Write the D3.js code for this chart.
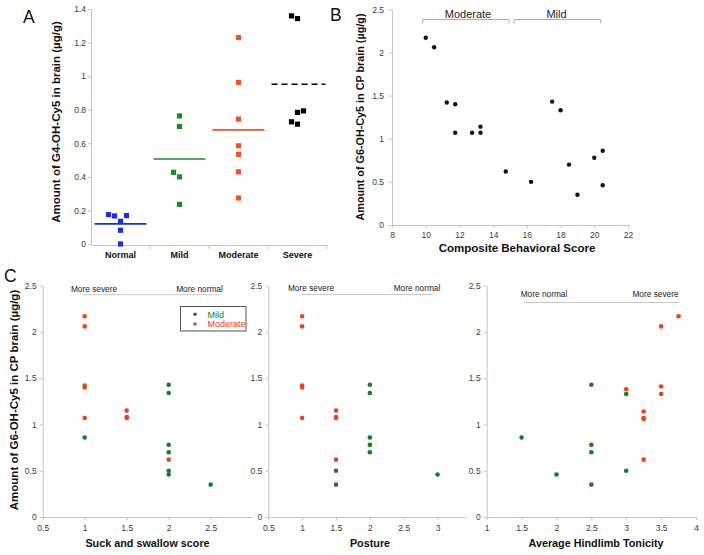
<!DOCTYPE html>
<html><head><meta charset="utf-8">
<script src="https://cdn.jsdelivr.net/npm/d3@7"></script>
<style>body{margin:0;background:#fff}svg{display:block;background:#fff}</style>
</head><body><svg id="c" width="704" height="555"></svg>
<script>
// ---------- Panel A data ----------
const groupsA = ["Normal", "Mild", "Moderate", "Severe"];
const normalVals = [0.175, 0.167, 0.169, 0.135, 0.082, 0.0];
const mildVals = [0.763, 0.70, 0.427, 0.40, 0.236];
const moderateVals = [1.23, 0.962, 0.744, 0.585, 0.534, 0.43, 0.274];
const severeVals = [1.359, 1.343, 0.793, 0.784, 0.728, 0.714];
const normalJitter = [-2, -1, 1, 0, 0, 0];
const mildJitter = [0, 0, -1, 0, 0];
const moderateJitter = [0, 0, 0, 0, 0, 0, 0];
const severeJitter = [-1, 0, 1, 0, -1, 0];
const groupMeans = [0.12, 0.506, 0.68, 0.952];
const yTicksA = [0, 0.2, 0.4, 0.6, 0.8, 1, 1.2, 1.4];

// ---------- Panel B data ----------
const scoreB = [10, 10.5, 11.25, 11.75, 11.75, 12.75, 13.25, 13.25, 14.75, 16.25, 17.5, 18, 18.5, 19, 20, 20.5, 20.5];
const amountB = [2.17, 2.06, 1.42, 1.40, 1.07, 1.07, 1.14, 1.07, 0.62, 0.50, 1.43, 1.33, 0.70, 0.35, 0.78, 0.86, 0.46];
const xTicksB = [8, 10, 12, 14, 16, 18, 20, 22];
const yTicksC = [0, 0.5, 1, 1.5, 2, 2.5];

// ---------- Panel C data ([score, amount]) ----------
const suckModerate = [[1, 2.17], [1, 2.06], [1, 1.42], [1, 1.40], [1, 1.07], [1.5, 1.15], [1.5, 1.08], [1.5, 1.07], [2, 0.62]];
const suckMild = [[1, 0.86], [2, 1.43], [2, 1.34], [2, 0.78], [2, 0.70], [2, 0.50], [2, 0.46], [2.5, 0.35]];
const postureModerate = [[1, 2.17], [1, 2.06], [1, 1.42], [1, 1.40], [1, 1.07], [1.5, 1.15], [1.5, 1.08], [1.5, 1.07], [1.5, 0.62]];
const postureMild = [[1.5, 0.50], [1.5, 0.35], [2, 1.43], [2, 1.34], [2, 0.86], [2, 0.78], [2, 0.70], [3, 0.46]];
const tonicityModerate = [[3, 1.38], [3.25, 1.14], [3.25, 1.07], [3.25, 1.06], [3.25, 0.62], [3.5, 2.06], [3.5, 1.41], [3.5, 1.33], [3.75, 2.17]];
const tonicityMild = [[1.5, 0.86], [2, 0.46], [2.5, 1.43], [2.5, 0.78], [2.5, 0.70], [2.5, 0.35], [3, 1.33], [3, 0.50]];
const xTicksSuck = [0.5, 1, 1.5, 2, 2.5];
const xTicksPosture = [0.5, 1, 1.5, 2, 2.5, 3];
const xTicksTonicity = [1, 1.5, 2, 2.5, 3, 3.5, 4];
const legendLabels = ["Mild", "Moderate"];

// ---------- styles ----------
const FONT = "'Liberation Sans', Arial, Helvetica, sans-serif";
const AXIS = "#c4c4c4";
const TXT = "#3a3a3a";
const BLUE = "#1f2fd2", GREEN_A = "#1e8a2c", ORANGE_A = "#e8562a";
const GREEN = "#1a7a28", RED = "#e2451f";

const svg = d3.select("#c").attr("font-family", FONT);
svg.append("rect").attr("width", 704).attr("height", 555).attr("fill", "#fff");

function styleAxis(g, fs) {
  g.attr("font-family", FONT).attr("font-size", fs);
  g.select(".domain").attr("stroke", AXIS);
  g.selectAll(".tick line").attr("stroke", AXIS);
  g.selectAll(".tick text").attr("fill", TXT);
}
function yAxis(scale, x, ticks, pad) {
  const ax = d3.axisLeft(scale).tickValues(ticks).tickFormat(d => String(d))
    .tickSize(3).tickSizeOuter(0).tickPadding(pad);
  svg.append("g").attr("transform", `translate(${x},0)`).call(ax).call(g => styleAxis(g, 8.5));
}
function xAxis(scale, y, ticks, pad) {
  const ax = d3.axisBottom(scale).tickValues(ticks).tickFormat(d => String(d))
    .tickSize(3).tickSizeOuter(0).tickPadding(pad);
  svg.append("g").attr("transform", `translate(0,${y})`).call(ax).call(g => styleAxis(g, 8.5));
}
function label(x, y, t, opts = {}) {
  const e = svg.append("text").attr("x", x).attr("y", y).text(t)
    .attr("font-size", opts.size || 10).attr("fill", opts.fill || "#111")
    .attr("text-anchor", opts.anchor || "middle")
    .attr("font-weight", opts.bold ? "bold" : "normal");
  if (opts.rot) e.attr("transform", `rotate(-90,${x},${y})`);
  return e;
}

// ================= Panel A =================
const xA = d3.scaleBand().domain(groupsA).range([91, 327]);
const yA = d3.scaleLinear().domain([0, 1.4]).range([244, 9]);
yAxis(yA, 91, yTicksA, 2);
const gxA = svg.append("g").attr("transform", "translate(0,245)");
gxA.call(d3.axisBottom(xA).tickSize(0).tickSizeOuter(0).tickPadding(7))
  .call(g => styleAxis(g, 9));
gxA.selectAll(".tick text").attr("font-weight", "bold").attr("fill", "#111");
gxA.selectAll("line.bnd").data(groupsA).join("line").attr("class", "bnd")
  .attr("x1", d => xA(d) + xA.bandwidth()).attr("x2", d => xA(d) + xA.bandwidth())
  .attr("y1", 0).attr("y2", 4).attr("stroke", AXIS);

const seriesA = [
  { g: "Normal", v: normalVals, j: normalJitter, c: BLUE },
  { g: "Mild", v: mildVals, j: mildJitter, c: GREEN_A },
  { g: "Moderate", v: moderateVals, j: moderateJitter, c: ORANGE_A },
  { g: "Severe", v: severeVals, j: severeJitter, c: "#000" }
];
const bwA = xA.bandwidth();
seriesA.forEach((s, i) => {
  const cx = xA(s.g) + bwA / 2;
  svg.append("g").selectAll("rect").data(s.v).join("rect")
    .attr("x", (d, k) => cx + s.j[k] * 6 - 2.6).attr("y", d => yA(d) - 2.6)
    .attr("width", 5.2).attr("height", 5.2).attr("fill", s.c);
  svg.append("line")
    .attr("x1", cx - bwA * 0.44).attr("x2", cx + bwA * 0.44 + (i === 3 ? 2 : 0))
    .attr("y1", yA(groupMeans[i])).attr("y2", yA(groupMeans[i]))
    .attr("stroke", s.c).attr("stroke-width", 1.6)
    .attr("stroke-dasharray", i === 3 ? "6,4" : null);
});
label(60, 122, "Amount of G4-OH-Cy5 in brain (µg/g)", { size: 11.5, bold: true, rot: true });
label(23, 23, "A", { size: 17.5, anchor: "start" });

// ================= Panel B =================
const xB = d3.scaleLinear().domain([8, 22]).range([392, 628]);
const yB = d3.scaleLinear().domain([0, 2.5]).range([225, 9.3]);
yAxis(yB, 392, yTicksC, 5);
xAxis(xB, 225, xTicksB, 4);
svg.append("g").selectAll("circle").data(scoreB).join("circle")
  .attr("cx", d => xB(d)).attr("cy", (d, i) => yB(amountB[i])).attr("r", 2.2).attr("fill", "#111");
function bracket(x1, x2, y) {
  svg.append("path").attr("d", `M${x1},${y + 4}V${y}H${x2}V${y + 4}`)
    .attr("fill", "none").attr("stroke", "#aaa").attr("stroke-width", 1);
}
bracket(xB(9.82), xB(14.94), 19.5);
bracket(xB(15.24), xB(20.38), 19.5);
label(468, 18, "Moderate", { size: 11, fill: "#222" });
label(556.5, 18, "Mild", { size: 11, fill: "#222" });
label(364, 117, "Amount of G6-OH-Cy5 in CP brain (µg/g)", { size: 10.8, bold: true, rot: true });
label(517, 252, "Composite Behavioral Score", { size: 11.5, bold: true });
label(330, 21, "B", { size: 17.5, anchor: "start" });

// ================= Panel C =================
const yC = d3.scaleLinear().domain([0, 2.5]).range([517, 285.7]);
const panelsC = [
  { x: d3.scaleLinear().domain([0.5, 3]).range([42.7, 252.7]), ticks: xTicksSuck, mod: suckModerate, mild: suckMild, title: "Suck and swallow score", tx: 147.5 },
  { x: d3.scaleLinear().domain([0.5, 3.42]).range([268.3, 466]), ticks: xTicksPosture, mod: postureModerate, mild: postureMild, title: "Posture", tx: 370 },
  { x: d3.scaleLinear().domain([1, 4]).range([486.7, 696]), ticks: xTicksTonicity, mod: tonicityModerate, mild: tonicityMild, title: "Average Hindlimb Tonicity", tx: 596 }
];
panelsC.forEach(p => {
  yAxis(yC, p.x.range()[0], yTicksC, 3);
  xAxis(p.x, 517, p.ticks, 5);
  [[p.mild, GREEN], [p.mod, RED]].forEach(([arr, col]) => {
    svg.append("g").selectAll("circle").data(arr).join("circle")
      .attr("cx", d => p.x(d[0])).attr("cy", d => yC(d[1])).attr("r", 2.3).attr("fill", col);
  });
  label(p.tx, 546.5, p.title, { size: 10.8, bold: true });
});
function sevLine(x1, x2, y) {
  svg.append("line").attr("x1", x1).attr("x2", x2).attr("y1", y).attr("y2", y)
    .attr("stroke", "#c8c8c8").attr("stroke-width", 1);
}
sevLine(83, 220, 294.7);
label(94, 292, "More severe", { size: 8.3, fill: "#222" });
label(199.5, 292, "More normal", { size: 8.3, fill: "#222" });
sevLine(301, 432, 294.5);
label(311, 291, "More severe", { size: 8.3, fill: "#222" });
label(417, 291, "More normal", { size: 8.3, fill: "#222" });
sevLine(524, 679, 302.5);
label(544, 296.5, "More normal", { size: 8.3, fill: "#222" });
label(655.5, 296.5, "More severe", { size: 8.3, fill: "#222" });
svg.append("rect").attr("x", 180.5).attr("y", 306.5).attr("width", 65.5).attr("height", 24.5)
  .attr("fill", "#fff").attr("stroke", "#555").attr("stroke-width", 1);
legendLabels.forEach((t, i) => {
  const col = i === 0 ? GREEN : RED;
  svg.append("circle").attr("cx", 195).attr("cy", 314.3 + i * 9.7).attr("r", 1.8).attr("fill", col);
  label(207.5, 317.5 + i * 9.7, t, { size: 9, fill: col, anchor: "start" });
});
label(18, 400, "Amount of G6-OH-Cy5 in CP brain (µg/g)", { size: 11.5, bold: true, rot: true });
label(4, 282, "C", { size: 17.5, anchor: "start" });
</script></body></html>
